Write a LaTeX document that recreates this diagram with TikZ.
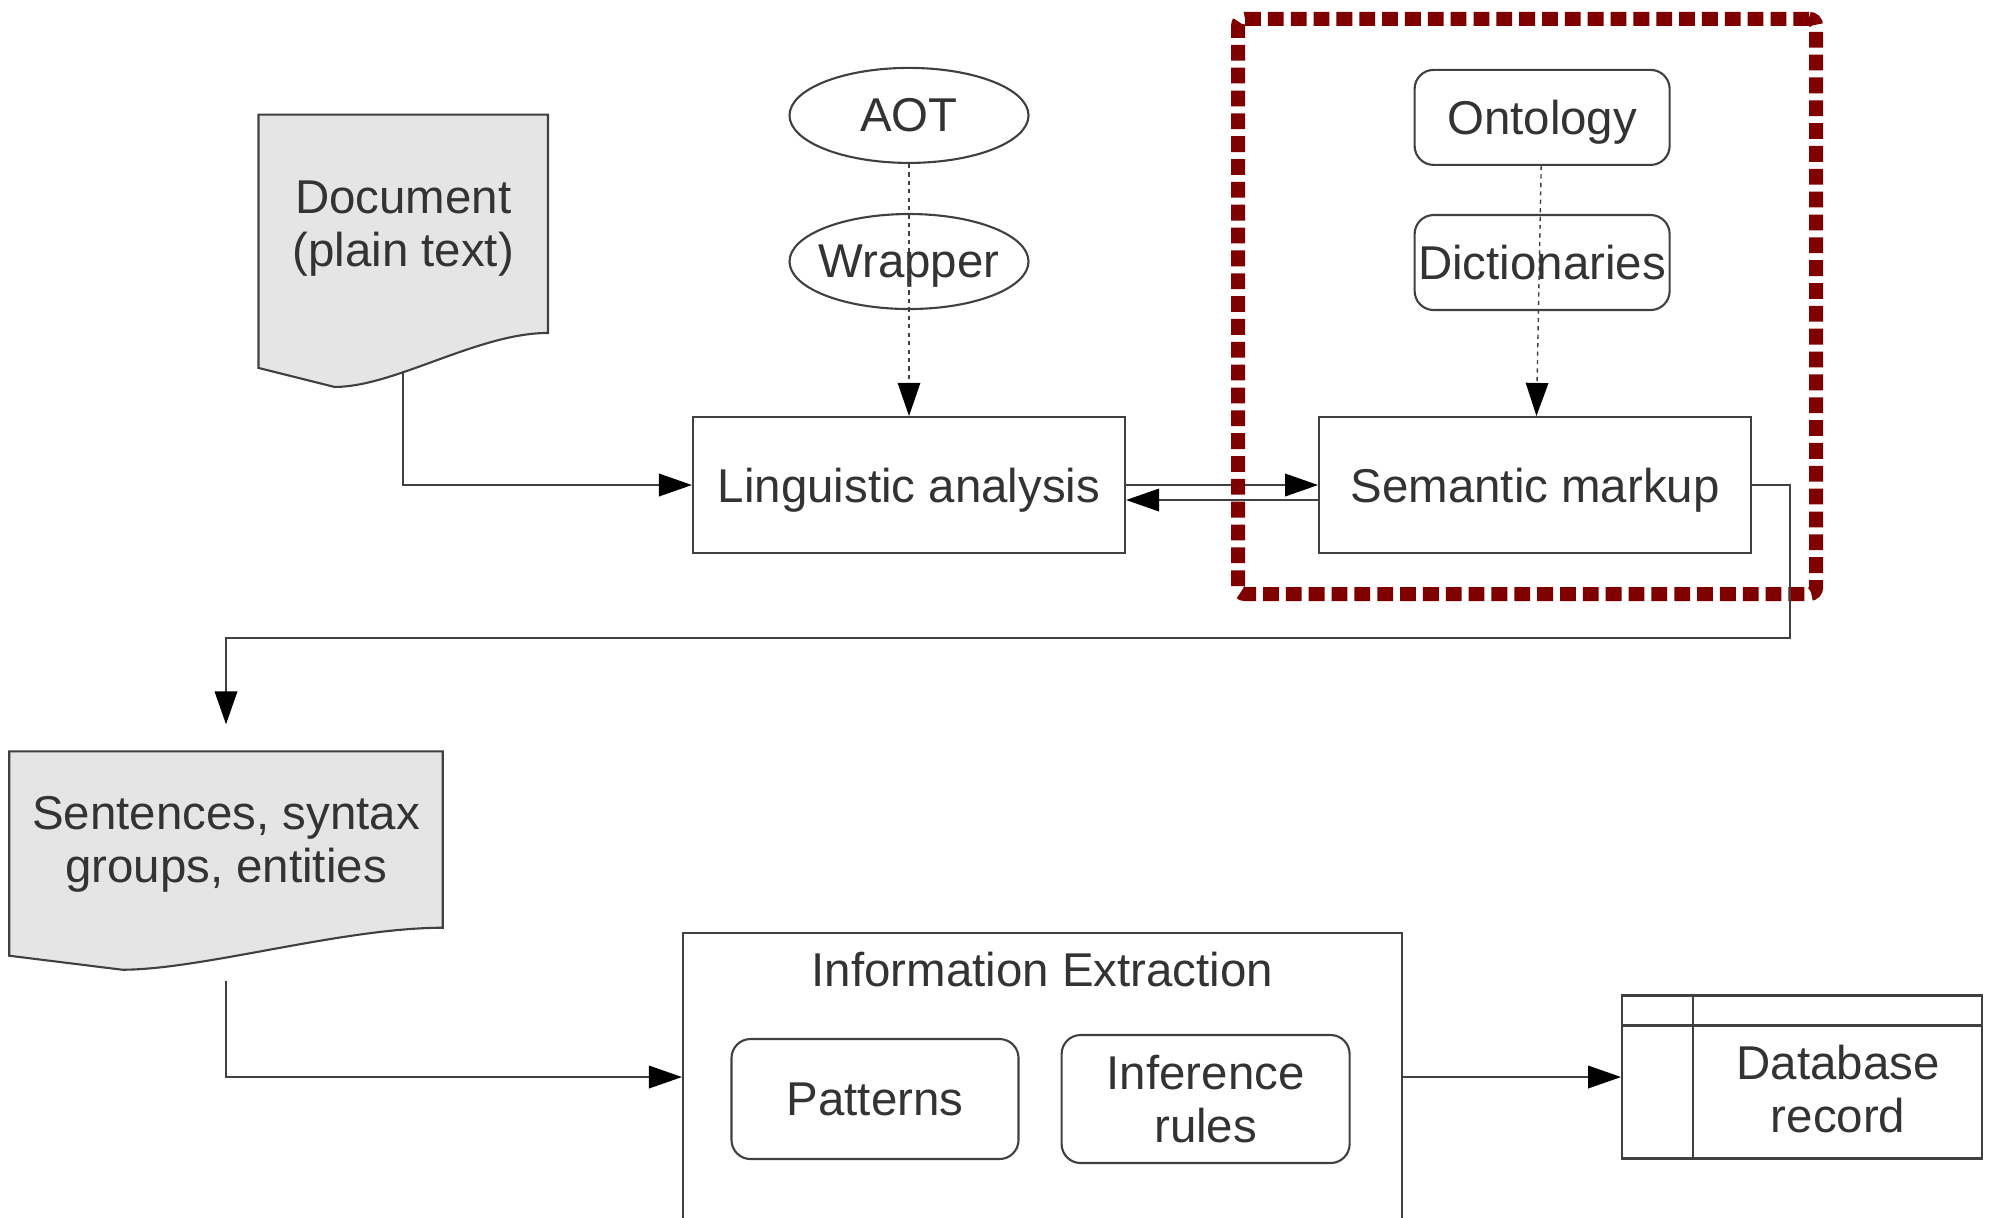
\documentclass[tikz,border=0pt]{standalone}
\usepackage{fontspec}
\setmainfont{Liberation Sans}
\usetikzlibrary{positioning,fit,shapes.geometric,arrows.meta,backgrounds}

\begin{document}
\begin{tikzpicture}[font=\fontsize{13.5pt}{15.2pt}\selectfont]
\tikzstyle{box}=[rectangle, draw=black!75, line width=0.6pt, text=black!80, align=center, inner sep=0pt]
\tikzstyle{proc}=[box, minimum width=4.32cm, minimum height=1.36cm, text depth=0pt]
\tikzstyle{oval}=[box, ellipse, inner xsep=-0.15cm, minimum width=2.39cm, minimum height=0.95cm, text depth=0pt]
\tikzstyle{res}=[box, rounded corners=0.19cm, minimum width=2.55cm, minimum height=0.95cm]
\tikzstyle{doc}=[rectangle, text=black!80, align=center, inner sep=0pt, text depth=0pt]
\tikzstyle{docfill}=[fill=black!10, draw=black!75, line width=0.6pt]
\tikzstyle{connect}=[-{Triangle[length=9.4pt,width=6.4pt,color=black]}, draw=black!75, line width=0.6pt]
\tikzstyle{lookup}=[connect, line width=0.4pt, dash pattern=on 1.2pt off 1.2pt]
\tikzstyle{zone}=[rectangle, draw=red!50!black, line width=4pt, dash pattern=on 4.5pt off 2pt, rounded corners=2pt]
  \useasboundingbox (0,0) rectangle (19.93,-12.17);
  \node[proc] (ling) at (9.09,-4.85) {Linguistic analysis};
  \node[proc] (sem) [right=1.92cm of ling] {Semantic markup};
  \node[oval] (aot) [above=2.52cm of ling] {AOT};
  \node[oval] (wrapper) [below=0.49cm of aot] {Wrapper};
  \node[res, text depth=0pt] (ontology) [above=2.5cm of sem, xshift=0.07cm] {Ontology};
  \node[res] (dict) [below=0.48cm of ontology] {Dictionaries};

  \node[doc, minimum width=2.88cm, minimum height=2.17cm] (document) [above left=0.83cm and 1.44cm of ling] {Document\\(plain text)};
  \node[doc, minimum width=4.32cm, minimum height=1.75cm] (sentences) at (2.26,-8.395) {Sentences, syntax\\groups, entities};

  \node[box, minimum width=7.19cm, minimum height=2.88cm, label={[anchor=north, yshift=-0.08cm, text=black!80]north:Information Extraction}] (ie) at (10.425,-10.77) {};
  \node[res, minimum width=2.87cm, minimum height=1.2cm] (patterns) at (8.75,-10.99) {Patterns};
  \node[res, minimum width=2.88cm, minimum height=1.28cm] (rules) [right=0.41cm of patterns] {Inference\\rules};
  \node[box, minimum width=3.6cm, minimum height=1.63cm, label={[shift={(0.36,-0.12)}, align=center, text=black!80]center:Database\\record}] (db) [right=2.18cm of ie] {};
  \draw[box] ([yshift=-0.31cm]db.north west) -- ([yshift=-0.31cm]db.north east);
  \draw[box] ([xshift=0.72cm]db.north west) -- ([xshift=0.72cm]db.south west);

  \begin{scope}[on background layer]
    \path[docfill] (document.north west) -- (document.north east) -- (document.south east)
      .. controls +(-0.7,0) and +(0.6,0) .. ([shift={(0.76,-0.54)}]document.south west)
      -- ([yshift=-0.35cm]document.south west) -- cycle;
    \path[docfill] (sentences.north west) -- (sentences.north east) -- (sentences.south east)
      .. controls +(-1.0,0) and +(0.8,0) .. ([shift={(1.13,-0.42)}]sentences.south west)
      -- ([yshift=-0.28cm]sentences.south west) -- cycle;
  \end{scope}

  \coordinate (doc-out) at ([yshift=-0.38cm]document.south);
  \coordinate (sent-out) at ([yshift=-0.53cm]sentences.south);
  \coordinate (sent-in) at ([yshift=0.27cm]sentences.north);

  \draw[connect] (doc-out) |- (ling);
  \draw[connect] (ling.east) -- (sem.west);
  \draw[connect] ([yshift=-0.15cm]sem.west) -- ([yshift=-0.15cm]ling.east);
  \draw[lookup] (aot) -- (ling);
  \draw[lookup] (ontology) -- (sem);
  \draw[connect] (sent-out) |- (ie);
  \draw[connect] (ie) -- (db);

  \node[zone, inner xsep=0.72cm, inner ysep=0.45cm, fit=(ontology) (sem), xshift=-0.08cm, yshift=0.05cm] (zone) {};
  \draw[connect] (sem.east) -- ++(0.38,0) -- ++(0,-1.53) -| (sent-in);
\end{tikzpicture}
\end{document}
